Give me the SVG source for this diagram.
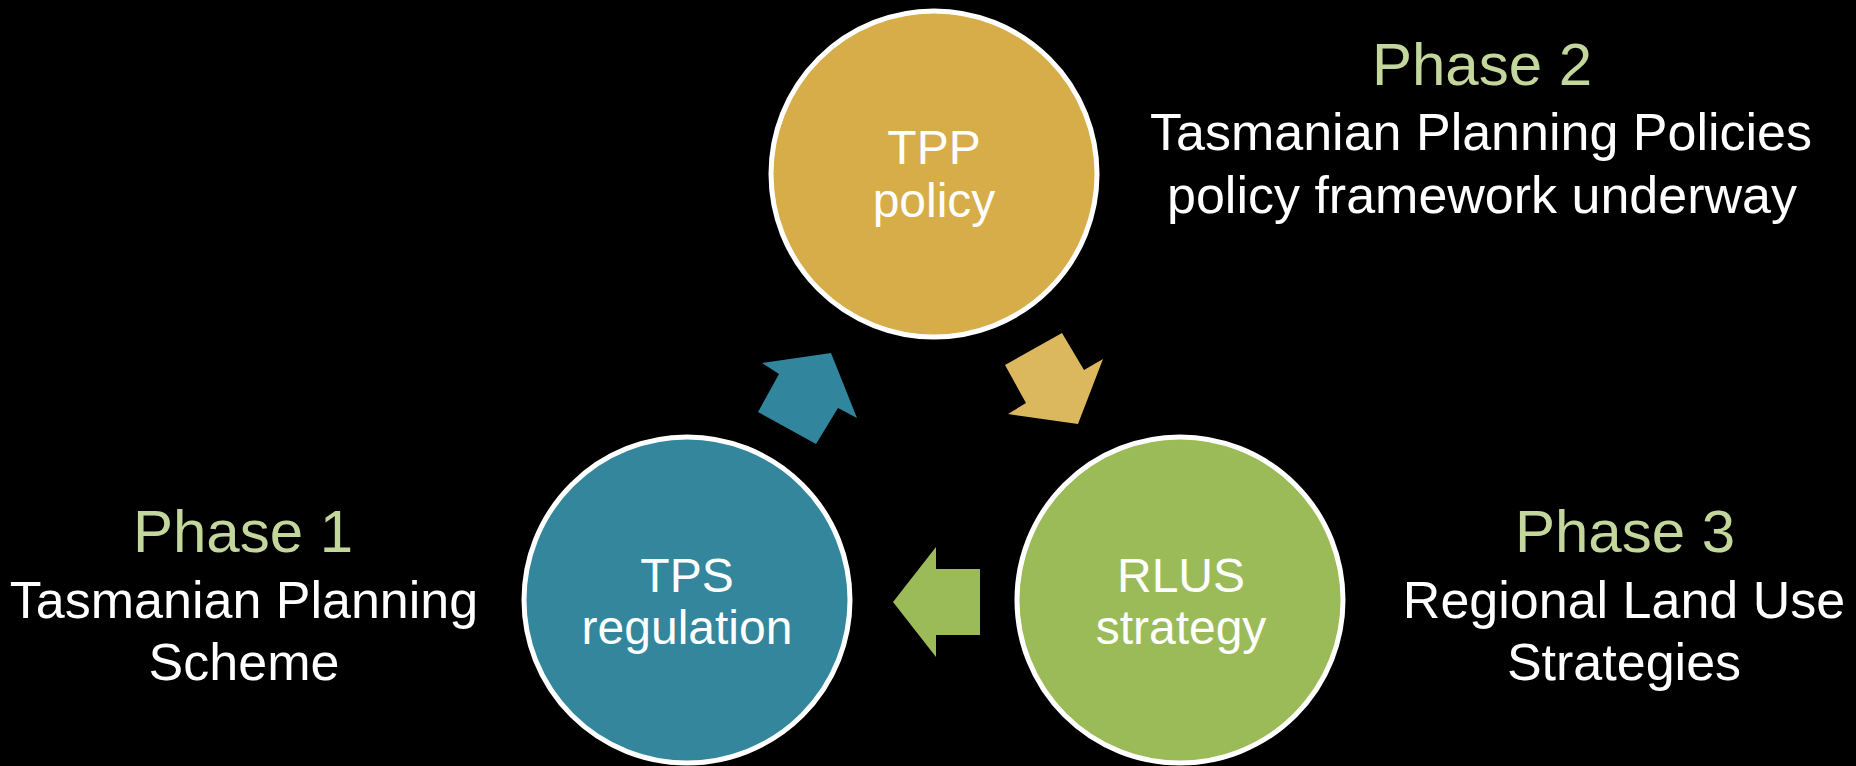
<svg xmlns="http://www.w3.org/2000/svg" width="1856" height="766" viewBox="0 0 1856 766">
<style>
.node{stroke:#fff;stroke-width:5}
.ct{font-family:"Liberation Sans",Arial,sans-serif;font-size:48px;fill:#fff;text-anchor:middle}
.ph{font-family:"Liberation Sans",Arial,sans-serif;font-size:60px;fill:#C3D69B;text-anchor:middle}
.sub{font-family:"Liberation Sans",Arial,sans-serif;font-size:52px;fill:#fff;text-anchor:middle}
</style>
<rect width="1856" height="766" fill="#000"/>
<g id="connectors">
<polygon points="758,412 779,374 762,363 831,353 857,418 838,408 816,444" fill="#31859C"/>
<polygon points="1005,365 1062,333 1084,370 1103,359 1078,424 1008,414 1026,403" fill="#DBB75E"/>
<polygon points="893,602 936,547 936,569 980,569 980,635 936,635 936,657" fill="#9BBB59"/>
</g>
<g id="tpp">
<circle class="node" cx="934" cy="174" r="163" fill="#D6AD48"/>
<text class="ct" x="934" y="164">TPP</text>
<text class="ct" x="934" y="217">policy</text>
</g>
<g id="tps">
<circle class="node" cx="687" cy="600" r="163" fill="#33869C"/>
<text class="ct" x="687" y="592">TPS</text>
<text class="ct" x="687" y="644">regulation</text>
</g>
<g id="rlus">
<circle class="node" cx="1180" cy="600" r="163" fill="#9BBB59"/>
<text class="ct" x="1181" y="592">RLUS</text>
<text class="ct" x="1181" y="644">strategy</text>
</g>
<g id="phase2">
<text class="ph" x="1482" y="85">Phase 2</text>
<text class="sub" x="1481" y="150">Tasmanian Planning Policies</text>
<text class="sub" x="1482" y="213">policy framework underway</text>
</g>
<g id="phase1">
<text class="ph" x="243" y="552">Phase 1</text>
<text class="sub" x="244" y="618">Tasmanian Planning</text>
<text class="sub" x="244" y="680">Scheme</text>
</g>
<g id="phase3">
<text class="ph" x="1625" y="552">Phase 3</text>
<text class="sub" x="1624" y="618">Regional Land Use</text>
<text class="sub" x="1624" y="680">Strategies</text>
</g>
</svg>
